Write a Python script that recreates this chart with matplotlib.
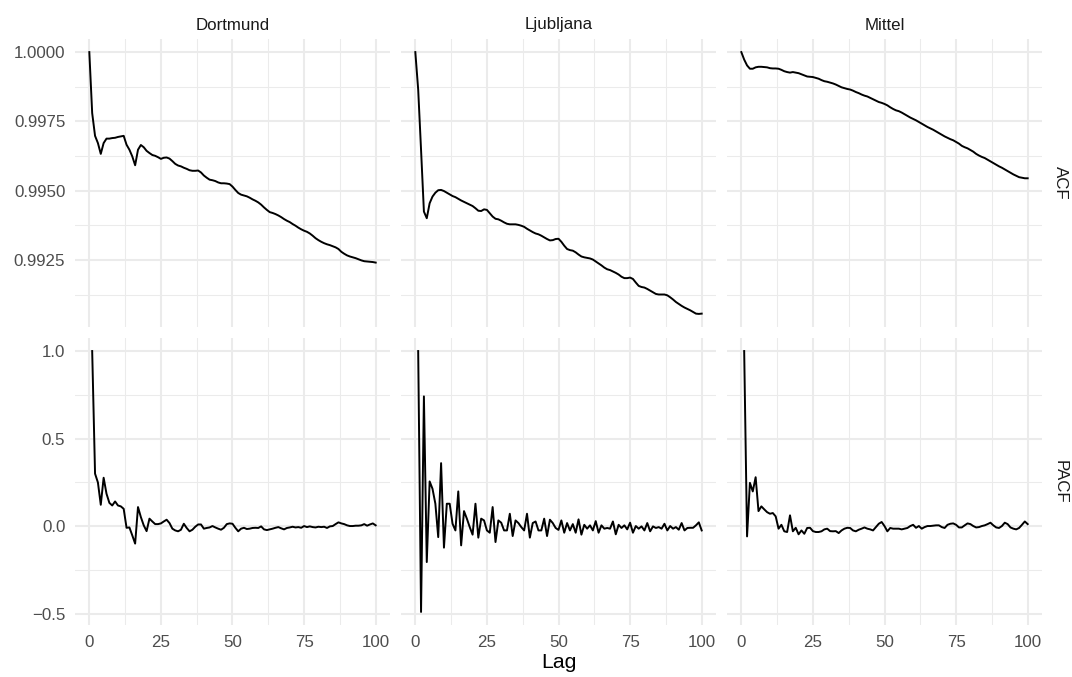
import numpy as np
import matplotlib
matplotlib.use("Agg")
import matplotlib.pyplot as plt
from matplotlib.ticker import FixedLocator, FixedFormatter

plt.rcParams['font.family'] = ['Liberation Sans', 'DejaVu Sans']
plt.rcParams['axes.unicode_minus'] = True

# ---------------- data ----------------
sites = ["Dortmund", "Ljubljana", "Mittel"]
measures = ["ACF", "PACF"]

acf_dortmund = [
    1.00000, 0.99780, 0.99698, 0.99672, 0.99633, 0.99672, 0.99688, 0.99688, 0.99690, 0.99691,
    0.99694, 0.99696, 0.99698, 0.99666, 0.99648, 0.99624, 0.99592, 0.99648, 0.99665, 0.99657,
    0.99644, 0.99636, 0.99629, 0.99626, 0.99621, 0.99615, 0.99619, 0.99620, 0.99616, 0.99607,
    0.99597, 0.99591, 0.99588, 0.99583, 0.99579, 0.99574, 0.99572, 0.99572, 0.99573, 0.99566,
    0.99555, 0.99547, 0.99540, 0.99538, 0.99535, 0.99530, 0.99527, 0.99527, 0.99526, 0.99524,
    0.99515, 0.99503, 0.99492, 0.99486, 0.99483, 0.99480, 0.99475, 0.99469, 0.99464, 0.99458,
    0.99450, 0.99440, 0.99431, 0.99423, 0.99420, 0.99416, 0.99411, 0.99405, 0.99398, 0.99392,
    0.99387, 0.99380, 0.99374, 0.99367, 0.99361, 0.99356, 0.99352, 0.99346, 0.99338, 0.99329,
    0.99322, 0.99316, 0.99311, 0.99307, 0.99304, 0.99300, 0.99296, 0.99290, 0.99280, 0.99273,
    0.99267, 0.99263, 0.99260, 0.99257, 0.99253, 0.99249, 0.99246, 0.99245, 0.99244, 0.99243,
    0.99241,
]

acf_ljubljana = [
    1.00000, 0.99865, 0.99648, 0.99425, 0.99401, 0.99455, 0.99479, 0.99493, 0.99502, 0.99503,
    0.99499, 0.99493, 0.99487, 0.99481, 0.99477, 0.99471, 0.99465, 0.99460, 0.99455, 0.99450,
    0.99445, 0.99437, 0.99428, 0.99427, 0.99433, 0.99431, 0.99419, 0.99407, 0.99399, 0.99397,
    0.99392, 0.99386, 0.99381, 0.99379, 0.99379, 0.99379, 0.99377, 0.99374, 0.99370, 0.99363,
    0.99357, 0.99351, 0.99346, 0.99343, 0.99338, 0.99332, 0.99326, 0.99321, 0.99322, 0.99326,
    0.99327, 0.99316, 0.99302, 0.99290, 0.99286, 0.99284, 0.99278, 0.99270, 0.99263, 0.99260,
    0.99258, 0.99256, 0.99252, 0.99245, 0.99238, 0.99231, 0.99223, 0.99217, 0.99214, 0.99209,
    0.99204, 0.99198, 0.99190, 0.99185, 0.99185, 0.99187, 0.99182, 0.99169, 0.99157, 0.99153,
    0.99151, 0.99146, 0.99140, 0.99134, 0.99128, 0.99126, 0.99126, 0.99126, 0.99123, 0.99116,
    0.99108, 0.99099, 0.99092, 0.99085, 0.99079, 0.99074, 0.99069, 0.99063, 0.99057, 0.99056,
    0.99057,
]

acf_mittel = [
    1.00000, 0.99973, 0.99952, 0.99940, 0.99940, 0.99945, 0.99947, 0.99947, 0.99946, 0.99945,
    0.99942, 0.99941, 0.99941, 0.99940, 0.99936, 0.99931, 0.99928, 0.99926, 0.99928, 0.99926,
    0.99924, 0.99920, 0.99916, 0.99912, 0.99911, 0.99910, 0.99907, 0.99904, 0.99899, 0.99895,
    0.99893, 0.99890, 0.99887, 0.99883, 0.99878, 0.99873, 0.99870, 0.99867, 0.99865, 0.99861,
    0.99856, 0.99852, 0.99847, 0.99843, 0.99840, 0.99835, 0.99830, 0.99825, 0.99820, 0.99817,
    0.99813, 0.99808, 0.99801, 0.99795, 0.99790, 0.99787, 0.99782, 0.99776, 0.99770, 0.99764,
    0.99759, 0.99754, 0.99748, 0.99742, 0.99736, 0.99730, 0.99725, 0.99720, 0.99714, 0.99708,
    0.99702, 0.99696, 0.99691, 0.99686, 0.99682, 0.99676, 0.99670, 0.99662, 0.99657, 0.99653,
    0.99647, 0.99641, 0.99633, 0.99627, 0.99622, 0.99618, 0.99612, 0.99606, 0.99600, 0.99594,
    0.99588, 0.99583, 0.99577, 0.99571, 0.99565, 0.99559, 0.99554, 0.99549, 0.99547, 0.99545,
    0.99545,
]

pacf_dortmund = [
    0.998, 0.300, 0.250, 0.123, 0.277, 0.186, 0.134, 0.119, 0.142, 0.119,
    0.114, 0.100, -0.008, -0.006, -0.051, -0.098, 0.110, 0.053, 0.006, -0.027,
    0.044, 0.028, 0.013, 0.013, 0.017, 0.028, 0.038, 0.019, -0.013, -0.023,
    -0.028, -0.019, 0.015, -0.009, -0.028, -0.019, -0.002, 0.011, 0.011, -0.013,
    -0.009, -0.006, 0.002, -0.006, -0.013, -0.019, -0.008, 0.013, 0.017, 0.015,
    -0.008, -0.028, -0.013, -0.008, -0.015, -0.013, -0.009, -0.008, -0.009, 0.000,
    -0.017, -0.021, -0.017, -0.013, -0.008, -0.004, -0.011, -0.017, -0.009, -0.006,
    -0.002, -0.006, -0.004, -0.008, 0.002, -0.004, 0.000, -0.004, -0.006, -0.002,
    -0.004, -0.002, -0.009, 0.000, 0.002, 0.013, 0.023, 0.017, 0.013, 0.006,
    0.002, 0.002, 0.004, 0.004, 0.006, 0.013, 0.004, 0.011, 0.017, 0.006,
]

pacf_ljubljana = [
    0.998, -0.487, 0.740, -0.203, 0.256, 0.214, 0.129, -0.061, 0.360, -0.121,
    0.129, 0.129, 0.015, -0.023, 0.199, -0.108, 0.087, 0.044, -0.004, -0.047,
    0.129, -0.064, 0.044, 0.034, -0.023, -0.036, 0.110, -0.089, 0.034, 0.021,
    -0.023, -0.023, 0.072, -0.055, 0.034, 0.019, -0.004, -0.023, 0.072, -0.064,
    0.019, 0.028, -0.023, -0.023, 0.044, -0.055, 0.038, 0.019, -0.009, -0.020,
    0.034, -0.036, 0.019, -0.023, 0.013, -0.036, 0.040, -0.047, 0.009, -0.013,
    0.006, -0.023, 0.030, -0.036, 0.006, -0.013, -0.009, -0.013, 0.028, -0.045,
    0.009, -0.009, 0.006, -0.017, 0.021, -0.036, 0.002, -0.013, 0.000, -0.023,
    0.019, -0.028, 0.000, -0.009, -0.004, -0.013, 0.015, -0.023, 0.002, -0.013,
    -0.004, -0.019, 0.019, -0.023, -0.009, -0.008, -0.008, 0.006, 0.023, -0.023,
]

pacf_mittel = [
    0.998, -0.057, 0.248, 0.199, 0.280, 0.087, 0.114, 0.097, 0.081, 0.072,
    0.076, 0.057, -0.013, 0.009, -0.028, -0.032, 0.063, -0.028, -0.008, -0.045,
    -0.023, -0.042, -0.009, -0.008, -0.027, -0.032, -0.032, -0.028, -0.017, -0.013,
    -0.027, -0.028, -0.027, -0.038, -0.023, -0.013, -0.008, -0.009, -0.023, -0.028,
    -0.019, -0.013, -0.006, -0.013, -0.017, -0.023, -0.004, 0.015, 0.025, 0.002,
    -0.028, -0.009, -0.013, -0.013, -0.013, -0.017, -0.013, -0.009, 0.002, 0.009,
    -0.008, 0.002, -0.013, -0.004, 0.002, 0.002, 0.004, 0.006, 0.006, -0.004,
    -0.009, 0.009, 0.015, 0.017, 0.009, -0.006, -0.006, 0.006, 0.017, 0.013,
    0.002, -0.006, -0.004, 0.002, 0.006, 0.013, 0.021, 0.006, -0.006, -0.009,
    0.002, 0.021, 0.013, -0.006, -0.013, -0.017, -0.009, 0.009, 0.028, 0.013,
]

acf_series = [acf_dortmund, acf_ljubljana, acf_mittel]
pacf_series = [pacf_dortmund, pacf_ljubljana, pacf_mittel]

x_ticks = [0, 25, 50, 75, 100]
x_minor = [12.5, 37.5, 62.5, 87.5]
acf_ticks = [0.9925, 0.9950, 0.9975, 1.0000]
acf_minor = [0.99125, 0.99375, 0.99625, 0.99875]
acf_labels = ["0.9925", "0.9950", "0.9975", "1.0000"]
pacf_ticks = [-0.5, 0.0, 0.5, 1.0]
pacf_minor = [-0.25, 0.25, 0.75]
pacf_labels = ["\u22120.5", "0.0", "0.5", "1.0"]

# ---------------- layout ----------------
W, H = 1072, 677
fig = plt.figure(figsize=(W / 100, H / 100), dpi=100)
fig.patch.set_facecolor("white")

col_left = [75, 401, 727]
col_w = 315
row_top = [39, 338]
row_h = [288, 287]

grid_col = "#EBEBEB"
tick_col = "#4D4D4D"


def expand(lo, hi, f=0.05):
    r = hi - lo
    return lo - f * r, hi + f * r


acf_lim = expand(min(min(s) for s in acf_series), max(max(s) for s in acf_series))
pacf_lim = expand(min(min(s) for s in pacf_series), max(max(s) for s in pacf_series))

rows = [
    (acf_series, 0, acf_lim, acf_ticks, acf_minor, acf_labels),
    (pacf_series, 1, pacf_lim, pacf_ticks, pacf_minor, pacf_labels),
]

for series, start, ylim, yt, ym, ylab in rows:
    r = start
    for c in range(3):
        left = col_left[c] / W
        bottom = 1 - (row_top[r] + row_h[r]) / H
        ax = fig.add_axes([left, bottom, col_w / W, row_h[r] / H])
        y = np.array(series[c])
        lags = np.arange(len(y)) + start
        ax.plot(lags, y, color="black", lw=1.4, solid_joinstyle="round", zorder=3)
        ax.set_xlim(*expand(0, 100))
        ax.set_ylim(*ylim)
        ax.xaxis.set_major_locator(FixedLocator(x_ticks))
        ax.xaxis.set_minor_locator(FixedLocator(x_minor))
        ax.yaxis.set_major_locator(FixedLocator(yt))
        ax.yaxis.set_minor_locator(FixedLocator(ym))
        ax.grid(which="major", color=grid_col, lw=1.45)
        ax.grid(which="minor", color=grid_col, lw=0.75)
        ax.set_axisbelow(True)
        for sp in ax.spines.values():
            sp.set_visible(False)
        ax.tick_params(which="both", length=0, colors=tick_col, labelsize=12.2)
        ax.tick_params(axis="x", pad=7)
        ax.tick_params(axis="y", pad=7)
        if c == 0:
            ax.yaxis.set_major_formatter(FixedFormatter(ylab))
        else:
            ax.set_yticklabels([])
        if r == 1:
            ax.set_xticklabels([str(t) for t in x_ticks])
        else:
            ax.set_xticklabels([])
        ax.set_facecolor("white")

# strip labels (top)
for c, name in enumerate(sites):
    fig.text((col_left[c] + col_w / 2) / W, 1 - 29.5 / H, name, ha="center",
             va="baseline", fontsize=12.2, color="#1A1A1A")
# strip labels (right)
for r, name in enumerate(measures):
    fig.text(1060 / W, 1 - (row_top[r] + row_h[r] / 2) / H, name, ha="center",
             va="center", rotation=-90, fontsize=12.2, color="#1A1A1A")

fig.text((col_left[0] + col_left[2] + col_w) / 2 / W, 1 - 663 / H, "Lag",
         ha="center", va="center", fontsize=15.3, color="black")

fig.savefig("out.png", dpi=100, facecolor="white")
